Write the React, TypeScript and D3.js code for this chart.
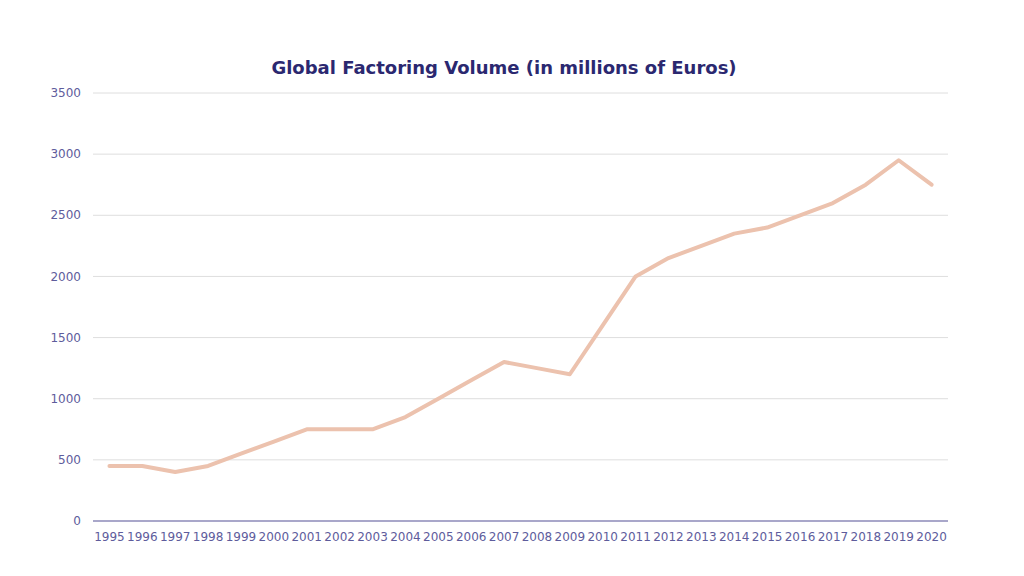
import React from "react";
import * as d3 from "d3";

const years = ["1995","1996","1997","1998","1999","2000","2001","2002","2003","2004","2005","2006","2007","2008","2009","2010","2011","2012","2013","2014","2015","2016","2017","2018","2019","2020"];
const volumes = [450,450,400,450,550,650,750,750,750,850,1000,1150,1300,1250,1200,1600,2000,2150,2250,2350,2400,2500,2600,2750,2950,2750];
const yTicks = [0,500,1000,1500,2000,2500,3000,3500];
const title = "Global Factoring Volume (in millions of Euros)";

export default function App() {
  const W = 1024, H = 576;
  const left = 93, right = 948, top = 93, bottom = 521;
  const x = d3.scaleBand().domain(years).range([left, right]);
  const y = d3.scaleLinear().domain([0, 3500]).range([bottom, top]);
  const line = d3.line<number>()
    .x((_, i) => (x(years[i]) as number) + x.bandwidth() / 2)
    .y((d) => y(d));
  const font = "'Century Gothic', 'DejaVu Sans', 'Noto Sans', sans-serif";
  return (
    <svg width={W} height={H} style={{ position: "absolute", left: 0, top: 0, background: "#fff" }}>
      <text x={504} y={74} textAnchor="middle" fontFamily={font} fontWeight="bold" fontSize={18} fill="#2b2870">{title}</text>
      {yTicks.map((t) => (
        <g key={t}>
          {t > 0 && <line x1={left} x2={right} y1={y(t)} y2={y(t)} stroke="#dedede" strokeWidth={1} />}
          <text x={81} y={y(t)} dy="0.35em" textAnchor="end" fontFamily={font} fontSize={12} fill="#5e5c9c">{t}</text>
        </g>
      ))}
      <line x1={left} x2={right} y1={bottom} y2={bottom} stroke="#8c8ab8" strokeWidth={1.5} />
      {years.map((yr) => (
        <text key={yr} x={(x(yr) as number) + x.bandwidth() / 2} y={541} textAnchor="middle" fontFamily={font} fontSize={12} fill="#5e5c9c">{yr}</text>
      ))}
      <path d={line(volumes) || ""} fill="none" stroke="#ecc2ae" strokeWidth={4} strokeLinejoin="round" strokeLinecap="round" />
    </svg>
  );
}
